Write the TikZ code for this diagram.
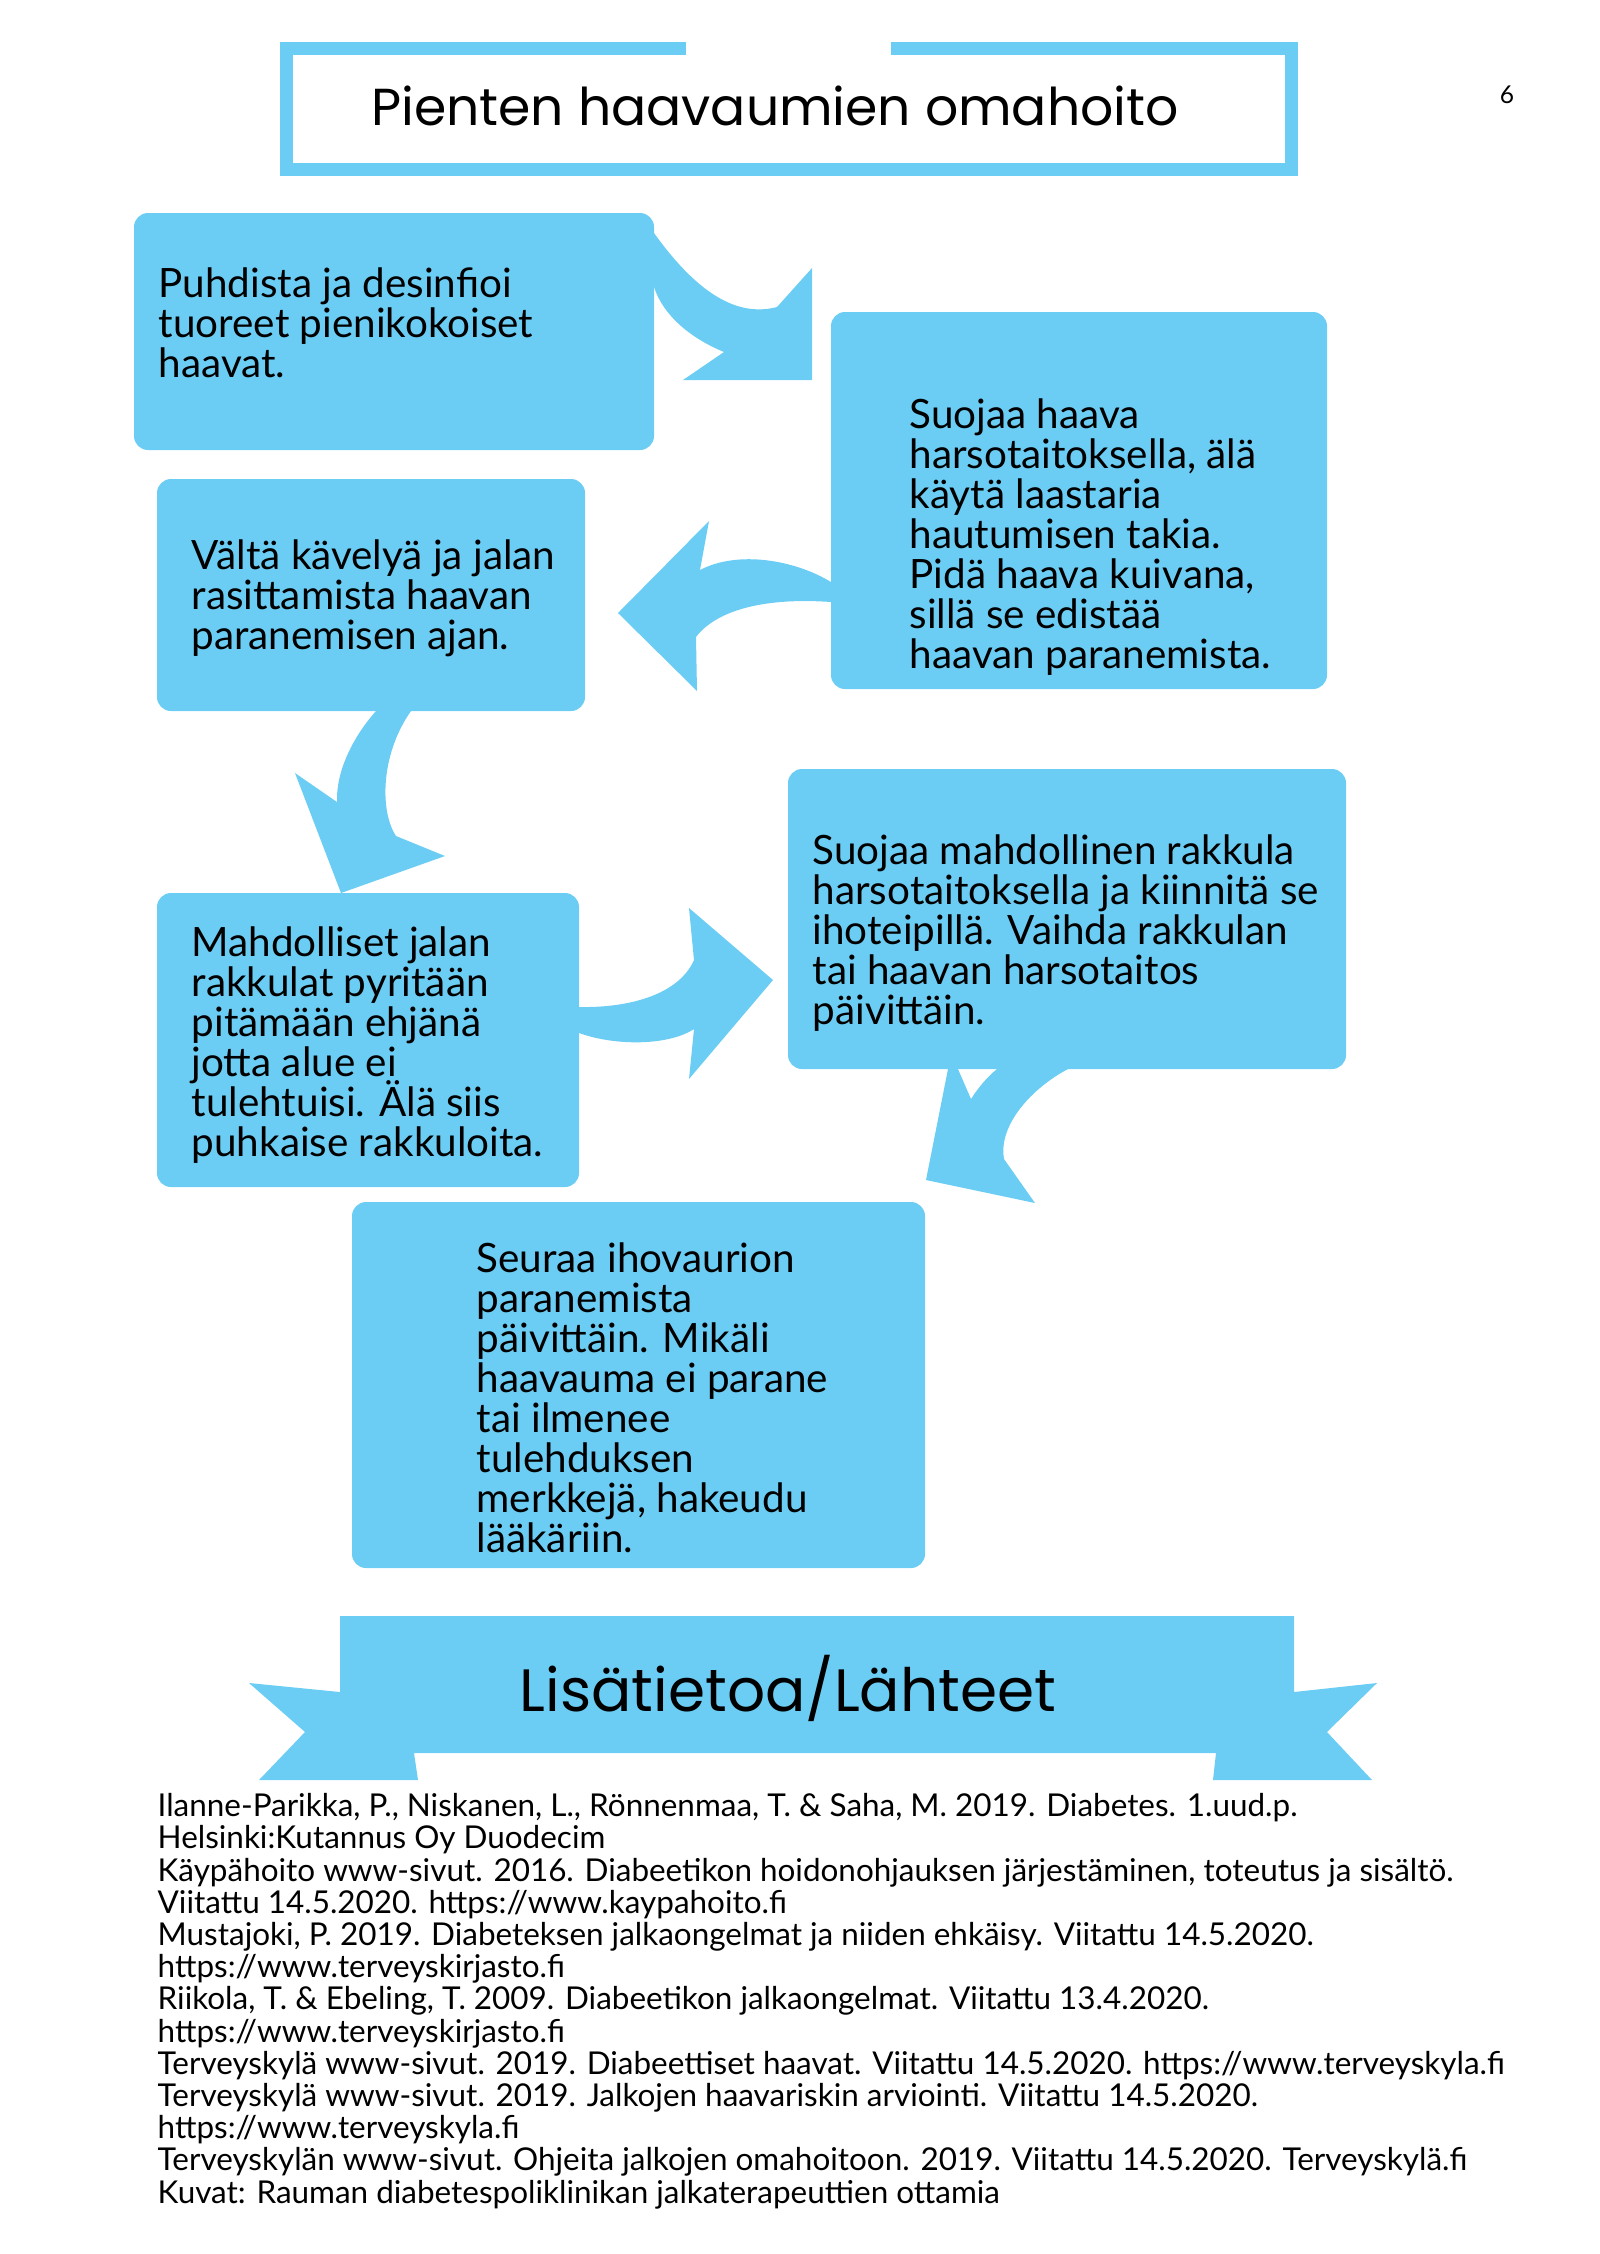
\documentclass[tikz,border=0pt]{standalone}
\usepackage{fontspec}
\setmainfont{Lato}
\newfontfamily\headfont{Poppins}
\definecolor{skyblue}{HTML}{6CCDF4}
\usetikzlibrary{fit, positioning}
\protected\def\tightlines{\lineskiplimit=-100pt\relax}
\tikzset{
	stepbox/.style={
			rectangle,
			rounded corners=1.4mm,
			fill=skyblue,
			draw=none,
			inner sep=0pt
		},
	steptext/.style={
			anchor=base west,
			inner sep=0pt,
			align=left,
			font=\fontsize{11.5}{11.38}\selectfont\tightlines
		},
	flowarrow/.style={
			fill=skyblue,
			draw=none
		},
	titleframe/.style={
			draw=skyblue,
			line width=1.3mm
		},
	headtext/.style={
			inner sep=0pt,
			font=\headfont\fontsize{14.8}{16}\selectfont
		},
	reftext/.style={
			anchor=base west,
			inner sep=0pt,
			align=left,
			font=\fontsize{8.95}{9.16}\selectfont\tightlines
		}
}

\begin{document}
\begin{tikzpicture}[x=0.1mm, y=-0.1mm]
\useasboundingbox (0,0) rectangle (1600,2254);

\draw[titleframe] (686,48.5) -- (286.5,48.5) -- (286.5,169.5) -- (1291.5,169.5) -- (1291.5,48.5) -- (891,48.5);
\node[headtext] (title) at (775,106) {Pienten haavaumien omahoito};
\node[inner sep=0pt, font=\fontsize{7}{8}\selectfont] (pagenum) at (1507,95) {6};

\node[stepbox, fit={(134,213) (654,450)}] (bPuhdista) {};
\node[stepbox, fit={(831,312) (1327,689)}] (bSuojaa) {};
\node[stepbox, fit={(157,479) (585,711)}] (bValta) {};
\node[stepbox, fit={(157,893) (579,1187)}] (bRakkulat) {};
\node[stepbox, fit={(788,769) (1346,1069)}] (bRakkula) {};
\node[stepbox, fit={(352,1202) (925,1568)}] (bSeuraa) {};

\node[steptext] (tPuhdista) at (158,377) {Puhdista ja desinfioi\\tuoreet pienikokoiset\\haavat.};
\node[steptext] (tSuojaa) at (909,668) {Suojaa haava\\harsotaitoksella, älä\\käytä laastaria\\hautumisen takia.\\Pidä haava kuivana,\\sillä se edistää\\haavan paranemista.};
\node[steptext] (tValta) at (191,649) {Vältä kävelyä ja jalan\\rasittamista haavan\\paranemisen ajan.};
\node[steptext] (tRakkulat) at (191,1156) {Mahdolliset jalan\\rakkulat pyritään\\pitämään ehjänä\\jotta alue ei\\tulehtuisi. Älä siis\\puhkaise rakkuloita.};
\node[steptext] (tRakkula) at (812,1024) {Suojaa mahdollinen rakkula\\harsotaitoksella ja kiinnitä se\\ihoteipillä. Vaihda rakkulan\\tai haavan harsotaitos\\päivittäin.};
\node[steptext] (tSeuraa) at (476,1552) {Seuraa ihovaurion\\paranemista\\päivittäin. Mikäli\\haavauma ei parane\\tai ilmenee\\tulehduksen\\merkkejä, hakeudu\\lääkäriin.};

\fill[flowarrow] (654,233) .. controls (695,290) and (735,318) .. (777,307) -- (812,268) -- (812,380) -- (683,380) -- (724,352) .. controls (690,338) and (663,315) .. (654,287) -- cycle;
\fill[flowarrow] (831,582) .. controls (795,560) and (738,550) .. (700,570) -- (709,521) -- (618,613) -- (697,691) -- (696,637) .. controls (715,612) and (760,597) .. (831,602) -- cycle;
\fill[flowarrow] (376,711) .. controls (352,738) and (336,772) .. (337,802) -- (295,773) -- (341,893) -- (445,856) -- (396,836) .. controls (380,812) and (380,755) .. (411,711) -- cycle;
\fill[flowarrow] (579,1007) .. controls (635,1008) and (680,992) .. (694,960) -- (689,908) -- (773,980) -- (689,1079) -- (694,1029) .. controls (668,1046) and (615,1046) .. (579,1033) -- cycle;
\fill[flowarrow] (948,1069) -- (958,1069) -- (971,1099) .. controls (978,1088) and (987,1077) .. (997,1069) -- (1068,1069) .. controls (1032,1088) and (998,1125) .. (1004,1159) -- (1035,1203) -- (926,1180) -- cycle;

\fill[flowarrow] (340,1616) -- (1294,1616) -- (1294,1692) -- (1377,1683) -- (1327,1732) -- (1372,1780) -- (1213,1780) -- (1216,1753) -- (414,1753) -- (418,1780) -- (259,1780) -- (305,1732) -- (249,1683) -- (340,1692) -- cycle;
\node[headtext, font=\headfont\fontsize{17}{20}\selectfont] (lahteet) at (788,1688) {Lisätietoa/Lähteet};

\node[reftext] (refs) at (157,2203) {Ilanne-Parikka, P., Niskanen, L., Rönnenmaa, T. \& Saha, M. 2019. Diabetes. 1.uud.p.\\Helsinki:Kutannus Oy Duodecim\\Käypähoito www-sivut. 2016. Diabeetikon hoidonohjauksen järjestäminen, toteutus ja sisältö.\\Viitattu 14.5.2020. https://www.kaypahoito.fi\\Mustajoki, P. 2019. Diabeteksen jalkaongelmat ja niiden ehkäisy. Viitattu 14.5.2020.\\https://www.terveyskirjasto.fi\\Riikola, T. \& Ebeling, T. 2009. Diabeetikon jalkaongelmat. Viitattu 13.4.2020.\\https://www.terveyskirjasto.fi\\Terveyskylä www-sivut. 2019. Diabeettiset haavat. Viitattu 14.5.2020. https://www.terveyskyla.fi\\Terveyskylä www-sivut. 2019. Jalkojen haavariskin arviointi. Viitattu 14.5.2020.\\https://www.terveyskyla.fi\\Terveyskylän www-sivut. Ohjeita jalkojen omahoitoon. 2019. Viitattu 14.5.2020. Terveyskylä.fi\\Kuvat: Rauman diabetespoliklinikan jalkaterapeuttien ottamia};
\end{tikzpicture}
\end{document}
